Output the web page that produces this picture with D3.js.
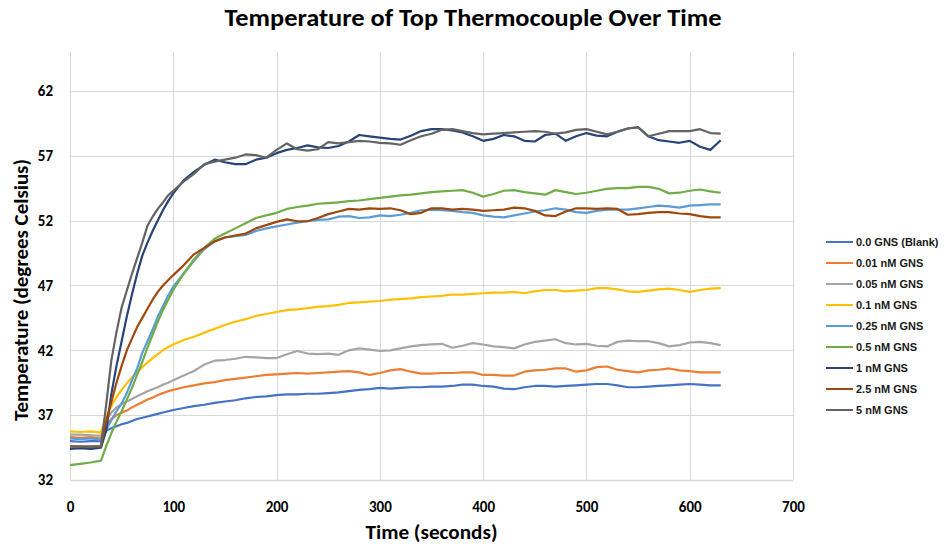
<!DOCTYPE html>
<html>
<head>
<meta charset="utf-8">
<script src="https://cdn.jsdelivr.net/npm/d3@7"></script>
<style>
  body { margin: 0; background: #fff; }
  svg { display: block; }
</style>
</head>
<body>
<div id="chart"></div>
<script>

// time stamps (seconds)
var times = [0,10,20,30,35,40,45,50,55,60,65,70,75,80,85,90,95,100,
  110,120,130,140,150,160,170,180,190,200,210,220,230,240,250,260,270,280,290,300,
  310,320,330,340,350,360,370,380,390,400,410,420,430,440,450,460,470,480,490,500,
  510,520,530,540,550,560,570,580,590,600,610,620,630];

var seriesNames = ['0.0 GNS (Blank)','0.01 nM GNS','0.05 nM GNS','0.1 nM GNS','0.25 nM GNS',
  '0.5 nM GNS','1 nM GNS','2.5 nM GNS','5 nM GNS'];

var blank = [35.0,34.95,35.0,35.0,35.8,36.0,36.15,36.3,36.4,36.55,36.7,36.8,36.9,37.0,37.1,37.2,37.3,37.4,
  37.55,37.7,37.8,37.95,38.05,38.15,38.3,38.4,38.45,38.55,38.6,38.6,38.65,38.65,38.7,38.75,38.85,38.95,39.0,39.1,
  39.05,39.1,39.15,39.15,39.2,39.2,39.25,39.35,39.35,39.25,39.2,39.05,39.0,39.15,39.25,39.25,39.2,39.25,39.3,39.35,
  39.4,39.4,39.3,39.15,39.15,39.2,39.25,39.3,39.35,39.4,39.35,39.3,39.3];

var gns001 = [35.3,35.25,35.3,35.2,36.2,36.7,37.0,37.2,37.35,37.6,37.8,38.0,38.2,38.35,38.55,38.7,38.85,38.95,
  39.15,39.3,39.45,39.55,39.7,39.8,39.9,40.0,40.1,40.15,40.2,40.25,40.2,40.25,40.3,40.35,40.4,40.3,40.1,40.25,
  40.45,40.55,40.35,40.2,40.2,40.25,40.25,40.3,40.3,40.1,40.1,40.05,40.05,40.35,40.45,40.5,40.6,40.6,40.35,40.45,
  40.7,40.75,40.5,40.4,40.3,40.45,40.5,40.6,40.45,40.4,40.3,40.3,40.3];

var gns005 = [35.5,35.5,35.45,35.4,36.6,37.2,37.6,37.85,38.05,38.25,38.45,38.65,38.85,39.0,39.15,39.35,39.5,39.7,
  40.05,40.4,40.9,41.2,41.25,41.35,41.5,41.45,41.4,41.4,41.7,41.95,41.75,41.7,41.75,41.65,42.0,42.15,42.05,41.95,
  42.0,42.15,42.3,42.4,42.45,42.5,42.2,42.35,42.55,42.45,42.3,42.25,42.15,42.45,42.65,42.75,42.85,42.55,42.45,42.5,
  42.35,42.3,42.65,42.75,42.7,42.7,42.55,42.3,42.4,42.6,42.65,42.55,42.4];

var gns01 = [35.75,35.7,35.75,35.65,36.9,37.7,38.4,38.95,39.45,39.9,40.3,40.7,41.05,41.4,41.7,42.0,42.25,42.45,
  42.8,43.05,43.35,43.65,43.95,44.2,44.4,44.65,44.8,44.95,45.1,45.15,45.25,45.35,45.4,45.5,45.65,45.7,45.75,45.8,
  45.9,45.95,46.0,46.1,46.15,46.2,46.3,46.3,46.35,46.4,46.45,46.45,46.5,46.4,46.55,46.65,46.65,46.55,46.6,46.65,
  46.8,46.8,46.7,46.55,46.5,46.6,46.7,46.75,46.65,46.5,46.65,46.75,46.8];

var gns025 = [35.2,35.15,35.2,35.1,35.9,36.6,37.3,37.9,38.7,39.7,40.6,41.8,42.7,43.6,44.6,45.4,46.2,46.9,
  47.9,48.9,49.8,50.4,50.7,50.8,50.9,51.2,51.4,51.55,51.7,51.85,51.95,52.05,52.1,52.3,52.35,52.2,52.25,52.4,
  52.35,52.45,52.6,52.8,52.85,52.8,52.75,52.65,52.6,52.4,52.3,52.25,52.4,52.55,52.7,52.8,52.95,52.85,52.65,52.6,
  52.75,52.85,52.85,52.85,52.95,53.05,53.15,53.1,53.0,53.15,53.2,53.25,53.25];

var gns05 = [33.15,33.25,33.35,33.5,34.6,35.6,36.5,37.3,38.2,39.1,40.1,41.1,42.2,43.2,44.2,45.1,45.9,46.65,
  47.9,49.0,49.9,50.6,51.0,51.4,51.8,52.2,52.4,52.6,52.9,53.05,53.15,53.3,53.35,53.4,53.5,53.55,53.65,53.75,
  53.85,53.95,54.0,54.1,54.2,54.25,54.3,54.35,54.15,53.85,54.05,54.3,54.35,54.2,54.1,54.0,54.35,54.2,54.05,54.15,
  54.3,54.45,54.5,54.5,54.6,54.6,54.45,54.1,54.15,54.3,54.4,54.25,54.15];

var gns1 = [34.4,34.45,34.4,34.5,35.8,38.6,40.8,42.7,44.6,46.3,47.9,49.3,50.3,51.2,52.0,52.8,53.5,54.1,
  55.1,55.75,56.3,56.7,56.5,56.35,56.35,56.7,56.85,57.2,57.45,57.6,57.8,57.65,57.6,57.75,58.1,58.6,58.5,58.4,
  58.3,58.25,58.55,58.9,59.05,59.05,58.95,58.8,58.5,58.15,58.3,58.6,58.5,58.15,58.1,58.6,58.7,58.15,58.5,58.75,
  58.55,58.5,58.85,59.1,59.2,58.5,58.2,58.1,58.0,58.15,57.7,57.45,58.2];

var gns25 = [34.6,34.55,34.6,34.6,36.5,38.0,39.5,40.8,42.0,42.9,43.8,44.5,45.2,45.9,46.5,47.0,47.4,47.8,
  48.55,49.4,49.9,50.4,50.7,50.85,51.0,51.4,51.65,51.9,52.1,51.95,51.95,52.2,52.5,52.7,52.9,52.85,52.95,52.9,
  52.95,52.8,52.5,52.6,52.95,52.95,52.85,52.9,52.85,52.75,52.8,52.85,53.0,52.95,52.75,52.4,52.35,52.7,52.95,52.95,
  52.9,52.95,52.9,52.45,52.5,52.6,52.65,52.65,52.55,52.5,52.35,52.25,52.25];

var gns5 = [34.6,34.6,34.55,34.6,37.8,41.2,43.4,45.3,46.6,47.9,49.1,50.3,51.6,52.3,52.9,53.4,53.95,54.3,
  55.0,55.6,56.35,56.55,56.7,56.85,57.1,57.05,56.85,57.45,57.95,57.5,57.4,57.5,58.05,57.95,58.05,58.15,58.1,58.0,
  57.95,57.85,58.2,58.5,58.7,59.0,59.05,58.9,58.75,58.65,58.7,58.75,58.8,58.85,58.9,58.85,58.7,58.8,59.0,59.05,
  58.85,58.65,58.85,59.1,59.2,58.5,58.7,58.9,58.9,58.9,59.05,58.75,58.7];

var seriesValues = [blank, gns001, gns005, gns01, gns025, gns05, gns1, gns25, gns5];
var seriesColors = ['#4472c4','#ed7d31','#a5a5a5','#ffc000','#5b9bd5','#70ad47','#264478','#9e480e','#636363'];

var xTicks = [0,100,200,300,400,500,600,700];
var yTicks = [32,37,42,47,52,57,62];


var width = 950, height = 548;
var margin = {top: 52, right: 157, bottom: 68, left: 70};
var plotW = width - margin.left - margin.right,
    plotH = height - margin.top - margin.bottom;

var svg = d3.select('#chart').append('svg')
  .attr('width', width)
  .attr('height', height);

var x = d3.scaleLinear().domain([0, 700]).range([0, plotW]);
var y = d3.scaleLinear().domain([32, 65]).range([plotH, 0]);

var g = svg.append('g')
  .attr('transform', 'translate(' + margin.left + ',' + margin.top + ')');

// gridlines
g.append('g')
  .selectAll('line')
  .data(yTicks.slice(1))
  .enter().append('line')
  .attr('x1', 0).attr('x2', plotW)
  .attr('y1', function(d){ return Math.round(y(d)) + 0.5; })
  .attr('y2', function(d){ return Math.round(y(d)) + 0.5; })
  .style('stroke', '#d9d9d9').style('stroke-width', 1);

g.append('g')
  .selectAll('line')
  .data(xTicks)
  .enter().append('line')
  .attr('y1', 0).attr('y2', plotH)
  .attr('x1', function(d){ return Math.round(x(d)) + 0.5; })
  .attr('x2', function(d){ return Math.round(x(d)) + 0.5; })
  .style('stroke', '#d9d9d9').style('stroke-width', 1);

// bottom axis line
g.append('line')
  .attr('x1', 0).attr('x2', plotW)
  .attr('y1', plotH + 0.5).attr('y2', plotH + 0.5)
  .style('stroke', '#d9d9d9').style('stroke-width', 1.5);

// axes (labels only)
var tickFont = "bold 15px Carlito, Lato, 'Open Sans', sans-serif";

var xAxis = g.append('g')
  .attr('transform', 'translate(0,' + plotH + ')')
  .call(d3.axisBottom(x).tickValues(xTicks).tickSize(0).tickPadding(21));
xAxis.select('.domain').remove();
xAxis.selectAll('text').style('font', tickFont).style('fill', '#000');

var yAxis = g.append('g')
  .call(d3.axisLeft(y).tickValues(yTicks).tickSize(0).tickPadding(17));
yAxis.select('.domain').remove();
yAxis.selectAll('text').style('font', tickFont).style('fill', '#000');

// series lines
var line = d3.line()
  .x(function(d){ return x(d[0]); })
  .y(function(d){ return y(d[1]); });

seriesValues.forEach(function(vals, i){
  var pts = times.map(function(t, k){ return [t, vals[k]]; });
  g.append('path')
    .datum(pts)
    .attr('d', line)
    .style('fill', 'none')
    .style('stroke', seriesColors[i])
    .style('stroke-width', 2.2)
    .style('stroke-linejoin', 'round');
});

// title
svg.append('text')
  .attr('x', 473).attr('y', 26)
  .attr('text-anchor', 'middle')
  .style('font', "bold 24px Carlito, Lato, 'Open Sans', sans-serif")
  .attr('textLength', 497)
  .attr('lengthAdjust', 'spacingAndGlyphs')
  .text('Temperature of Top Thermocouple Over Time');

// axis titles
svg.append('text')
  .attr('x', margin.left + plotW / 2).attr('y', 539)
  .attr('text-anchor', 'middle')
  .style('font', "bold 20px Carlito, Lato, 'Open Sans', sans-serif")
  .attr('textLength', 132)
  .attr('lengthAdjust', 'spacingAndGlyphs')
  .text('Time (seconds)');

svg.append('text')
  .attr('transform', 'translate(28,' + (margin.top + plotH / 2 + 24) + ') rotate(-90)')
  .attr('text-anchor', 'middle')
  .style('font', "bold 20px Carlito, Lato, 'Open Sans', sans-serif")
  .attr('textLength', 262)
  .attr('lengthAdjust', 'spacingAndGlyphs')
  .text('Temperature (degrees Celsius)');

// legend
var legend = svg.append('g')
  .attr('transform', 'translate(826,242)');

var item = legend.selectAll('g')
  .data(seriesNames)
  .enter().append('g')
  .attr('transform', function(d, i){ return 'translate(0,' + (i * 21) + ')'; });

item.append('line')
  .attr('x1', 0).attr('x2', 27)
  .attr('y1', 0).attr('y2', 0)
  .style('stroke', function(d, i){ return seriesColors[i]; })
  .style('stroke-width', 2);

item.append('text')
  .attr('x', 30).attr('y', 4)
  .style('font', "bold 11px 'Liberation Sans', Arial, sans-serif")
  .style('fill', '#1a1a1a')
  .text(function(d){ return d; });

</script>
</body>
</html>
